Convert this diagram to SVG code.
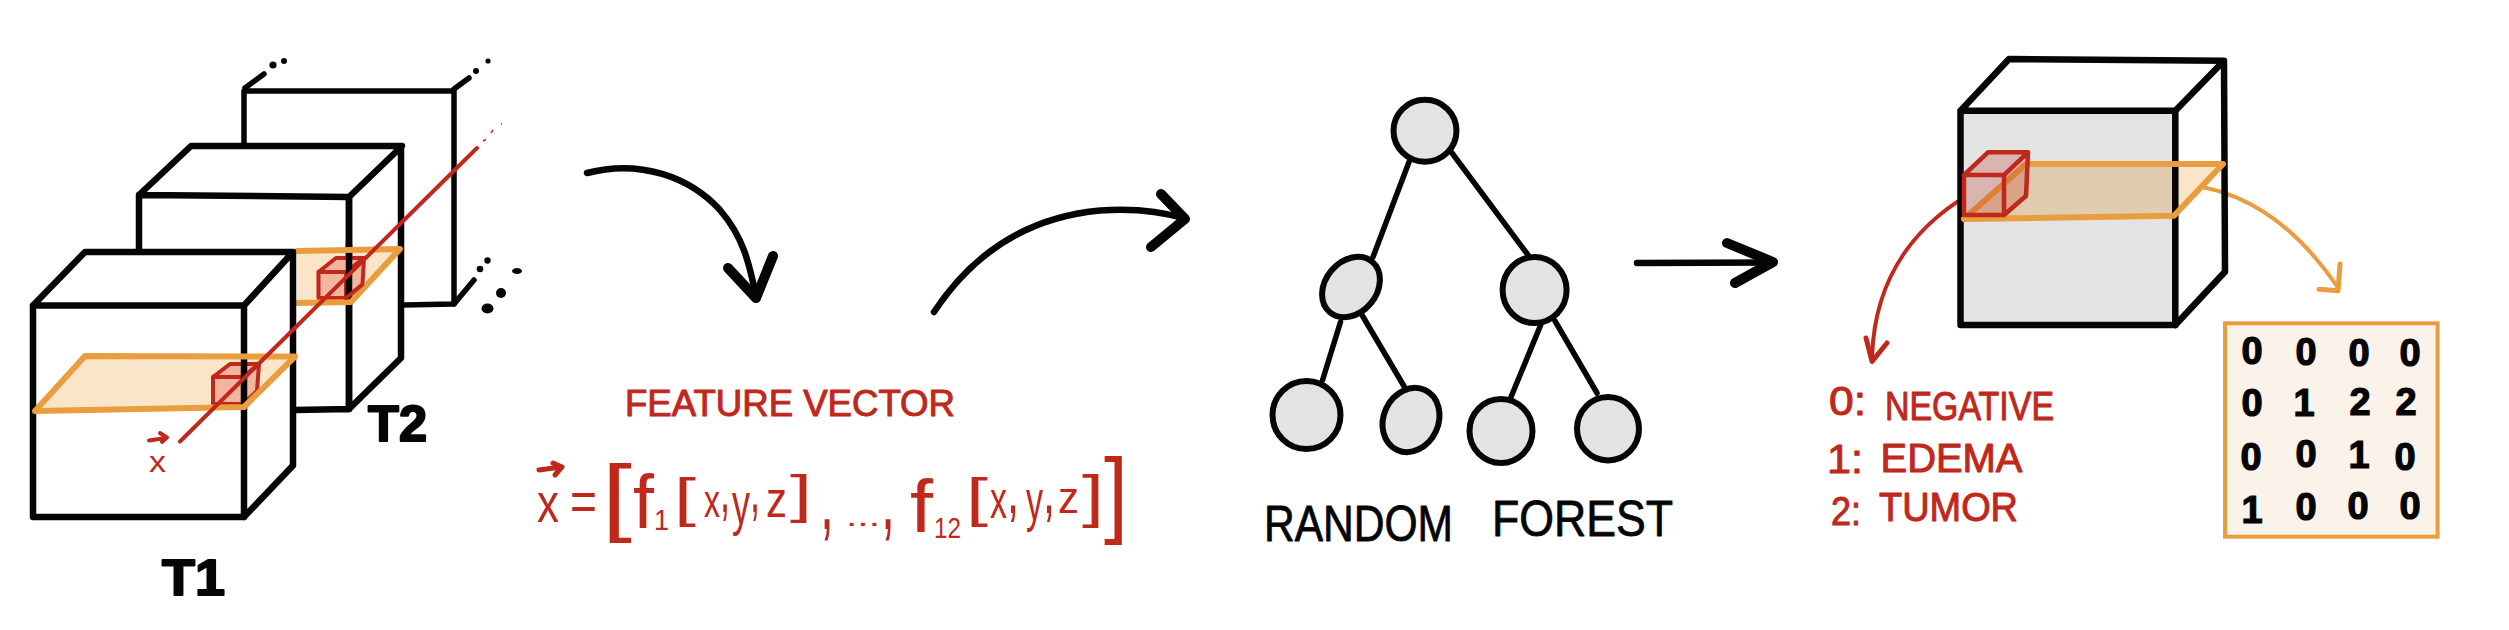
<svg xmlns="http://www.w3.org/2000/svg" width="2509" height="630" viewBox="0 0 2509 630">
<defs>
<style>
.k{fill:none;stroke:#050505;stroke-width:6.500;stroke-linecap:round;stroke-linejoin:round}
.kt{fill:none;stroke:#050505;stroke-width:5.500;stroke-linecap:round;stroke-linejoin:round}
.ah{fill:none;stroke:#050505;stroke-width:10;stroke-linecap:round;stroke-linejoin:round}
.o{fill:none;stroke:#e99d3f;stroke-width:6;stroke-linecap:round;stroke-linejoin:round}
.of{fill:#fbe5c8;stroke:none}
.r{fill:none;stroke:#c1281c;stroke-width:4;stroke-linecap:round;stroke-linejoin:round}
.rc{fill:#f3b4a0;stroke:#c1281c;stroke-width:4;stroke-linejoin:round}
.n{fill:#e3e3e3;stroke:#050505;stroke-width:6}
text{font-family:"Liberation Sans",Arial,sans-serif}
.bt{font-weight:700;font-size:50px;fill:#050505;stroke:#050505;stroke-width:2;stroke-linejoin:round}
.d{font-weight:700;font-size:38px;fill:#050505;text-anchor:middle;stroke:#050505;stroke-width:1.2}
.rt{font-size:36px;fill:#c1281c;stroke:#c1281c;stroke-width:1;stroke-linejoin:round}
.lg{font-size:40px;fill:#c1281c;stroke:#c1281c;stroke-width:1;stroke-linejoin:round}
.kh{font-size:50px;fill:#050505;stroke:#050505;stroke-width:.8;stroke-linejoin:round}
.eq{fill:#c1281c}
</style>
</defs>
<rect width="2509" height="630" fill="#fff"/>

<g id="volume-t3">
<path class="kt" d="M244 145V91H454V304L403 305"/>
<path class="kt" d="M245 88L264 74M454 89L469 78M454 304L474 280"/>
<g fill="#050505"><circle cx="273" cy="65" r="3.600"/><circle cx="284" cy="61" r="3"/><circle cx="476" cy="71" r="3"/><circle cx="488" cy="61" r="2.600"/><circle cx="480" cy="269" r="3.300"/><circle cx="487.500" cy="260.500" r="3.200"/><circle cx="501" cy="293" r="5"/><ellipse cx="487.500" cy="308.500" rx="6" ry="5"/><ellipse cx="517" cy="271" rx="5" ry="3"/></g>
</g>

<g id="volume-t2">
<polygon points="139,195 191,146 402,146 401,358 349,409 139,409" fill="#fff"/>
<path class="k" d="M139 252V195L191 146H402L349 197M139 195L349 197V409L295 410M349 409L401 358V146"/>
<polygon class="of" points="297,251 400,249 351,302 297,303"/>
<path class="k" d="M349 197V409"/>
<path class="rc" d="M318.500 272L336 258H364L362.500 284.500L346 298H318.500Z"/>
<path class="r" d="M318.500 272H346V298M346 272L364 258"/>
<path class="k" d="M349 245V302"/>
<path class="o" d="M297 251L400 249L351 302L297 303"/>
<path class="r" d="M346 298L362.500 284.500"/>
<text class="bt" x="368" y="441" textLength="59" lengthAdjust="spacingAndGlyphs">T2</text>
</g>

<g id="volume-t1">
<polygon points="33,305.500 85,252 293,254 293,465.500 244,517 33,517" fill="#fff"/>
<path class="k" d="M33 305.500L85 252H293L244 305.500M33 305.500H244V517H33ZM244 517L293 465.500V254"/>
<polygon class="of" points="35,411 85,356 295,356.500 244,407"/>
<path class="rc" d="M213 377L230 364H259L257 391L243 404H213Z"/>
<path class="r" d="M213 377H243V404M243 377L259 364"/>
<path class="k" d="M244 356V407"/>
<path class="o" d="M35 411L85 356L295 356.500L244 407Z"/>
<text class="bt" x="162" y="595" textLength="63" lengthAdjust="spacingAndGlyphs">T1</text>
</g>

<g id="ray">
<path class="r" d="M180 441.500L477 148"/>
<path d="M483 141L486 139.500M491 133L493 130M501 124L502 123.500" fill="none" stroke="#c1281c" stroke-width="1.500"/>
<path class="r" d="M149 440.500L166 438M160 433L167 437.500L162 442"/>
<text class="eq" x="149" y="472" font-size="30" textLength="17" lengthAdjust="spacingAndGlyphs">x</text>
</g>

<g id="connectors">
<path class="k" d="M587 173C640 159 690 177 720 210C745 239 750 268 756 296"/>
<path class="ah" d="M728 268L756 298L773 256"/>
<path class="k" d="M934 312C975 250 1030 217 1100 210.500C1130 208.500 1160 211 1184 218.500"/>
<path class="ah" d="M1161 194L1185 219L1151 247"/>
<path class="k" d="M1637 263L1772 262.500"/>
<path class="ah" d="M1727 243L1773 262L1735 283"/>
<path class="r" d="M1981 187.700C1925 217 1875 268 1872 357"/>
<path class="r" style="stroke-width:5" d="M1866 338L1872 361.500L1887 343"/>
<path class="o" style="stroke-width:4" d="M2132 187.700C2200 174 2275 194.700 2338 287.700"/>
<path class="o" style="stroke-width:5" d="M2340 264L2338 290.700L2319 289.300"/>
<g id="tree-edges">
<path class="kt" d="M1409 162L1373 257M1452 153L1528 255M1340.500 322L1322.600 380M1362 315L1404.500 387M1540.700 325L1511 397M1555 321L1597 393"/>
</g>
</g>

<g id="feature-vector">
<text class="rt" x="625" y="416" textLength="330" lengthAdjust="spacingAndGlyphs">FEATURE VECTOR</text>
</g>
<g id="equation">
<path class="r" style="stroke-width:5" d="M539 470L561 467M553 463L562 467L555 475"/>
<text class="eq"><tspan x="537" y="522" font-size="55" textLength="22" lengthAdjust="spacingAndGlyphs">x</tspan><tspan x="570" y="520" font-size="55" textLength="27" lengthAdjust="spacingAndGlyphs">=</tspan><tspan x="602" y="525" font-size="85" textLength="30" lengthAdjust="spacingAndGlyphs">[</tspan><tspan x="633" y="528" font-size="76" textLength="21" lengthAdjust="spacingAndGlyphs">f</tspan><tspan x="654" y="530" font-size="30" textLength="15" lengthAdjust="spacingAndGlyphs">1</tspan><tspan x="674" y="516" font-size="53" textLength="22" lengthAdjust="spacingAndGlyphs">[</tspan><tspan x="704" y="517" font-size="46" textLength="16" lengthAdjust="spacingAndGlyphs">x</tspan><tspan x="720" y="512" font-size="70" textLength="10" lengthAdjust="spacingAndGlyphs">,</tspan><tspan x="732" y="524" font-size="60" textLength="18" lengthAdjust="spacingAndGlyphs">y</tspan><tspan x="750" y="512" font-size="70" textLength="10" lengthAdjust="spacingAndGlyphs">,</tspan><tspan x="766" y="517" font-size="52" textLength="21" lengthAdjust="spacingAndGlyphs">z</tspan><tspan x="790" y="512" font-size="51" textLength="22" lengthAdjust="spacingAndGlyphs">]</tspan><tspan x="820" y="529" font-size="90" textLength="14" lengthAdjust="spacingAndGlyphs">,</tspan><tspan x="846" y="526" font-size="30" textLength="34" lengthAdjust="spacingAndGlyphs">...</tspan><tspan x="881" y="529" font-size="90" textLength="14" lengthAdjust="spacingAndGlyphs">,</tspan><tspan x="910" y="532" font-size="75" textLength="23" lengthAdjust="spacingAndGlyphs">f</tspan><tspan x="934" y="538" font-size="30" textLength="27" lengthAdjust="spacingAndGlyphs">12</tspan><tspan x="966" y="516" font-size="53" textLength="22" lengthAdjust="spacingAndGlyphs">[</tspan><tspan x="990" y="518" font-size="54" textLength="17" lengthAdjust="spacingAndGlyphs">x</tspan><tspan x="1007" y="513" font-size="70" textLength="12" lengthAdjust="spacingAndGlyphs">,</tspan><tspan x="1026" y="520" font-size="58" textLength="17" lengthAdjust="spacingAndGlyphs">y</tspan><tspan x="1043" y="513" font-size="70" textLength="12" lengthAdjust="spacingAndGlyphs">,</tspan><tspan x="1058" y="513" font-size="44" textLength="21" lengthAdjust="spacingAndGlyphs">z</tspan><tspan x="1082" y="516" font-size="58" textLength="22" lengthAdjust="spacingAndGlyphs">]</tspan><tspan x="1104" y="525" font-size="95" textLength="24" lengthAdjust="spacingAndGlyphs">]</tspan></text>
</g>

<g id="node-root"><ellipse class="n" cx="1425" cy="130.700" rx="31.500" ry="31"/></g>
<g id="node-left"><ellipse class="n" cx="1351" cy="287" rx="25.600" ry="33" transform="rotate(40 1351 287)"/></g>
<g id="node-right"><ellipse class="n" cx="1534.600" cy="290" rx="32" ry="33"/></g>
<g id="leaf-1"><ellipse class="n" cx="1306.500" cy="415" rx="34" ry="34"/></g>
<g id="leaf-2"><ellipse class="n" cx="1411" cy="420" rx="27.400" ry="33" transform="rotate(25 1411 420)"/></g>
<g id="leaf-3"><ellipse class="n" cx="1501" cy="431" rx="31.500" ry="32"/></g>
<g id="leaf-4"><ellipse class="n" cx="1608" cy="428.700" rx="31" ry="31.700"/></g>
<g id="forest-label">
<text class="kh" x="1264" y="541" textLength="189" lengthAdjust="spacingAndGlyphs">RANDOM</text>
<text class="kh" x="1492" y="536" textLength="181" lengthAdjust="spacingAndGlyphs">FOREST</text>
</g>

<g id="output-volume">
<polygon points="1960.500,110.700 2175.300,110.700 2175.300,325 1960.500,325" fill="#e3e3e3"/>
<path class="k" d="M1960.500 110.700L2009 59L2224 60.700L2175.300 110.700M1960.500 110.700H2175.300M2224 60.700L2225 271.700L2175.300 325M1960.500 110.700V325H2175.300"/>
<polygon points="1964,219 2026,164 2175,164 2175,216" fill="#e0ccae"/>
<polygon points="2175,164 2223,164 2173.500,216" fill="#fbe5c8"/>
<path class="k" d="M2175.300 110.700V325"/>
<path class="o" d="M1964 219L2174 215.700L2223 164H2026L1964 219"/>
<path d="M1964 175L1988 152.300H2028L2026 196L2004 215H1964Z" fill="#c1281c" fill-opacity=".25"/>
<path class="r" style="stroke-width:4.500" d="M1964 175L1988 152.300H2028L2026 196L2004 215H1964ZM1964 175H2004V215M2004 175L2028 152.300"/>
</g>
<g id="legend">
<text class="lg" x="1829" y="415" textLength="37" lengthAdjust="spacingAndGlyphs">0:</text>
<text class="lg" x="1885" y="420" textLength="169" lengthAdjust="spacingAndGlyphs">NEGATIVE</text>
<text class="lg" x="1827" y="473" textLength="36" lengthAdjust="spacingAndGlyphs">1:</text>
<text class="lg" x="1880.500" y="472" textLength="142" lengthAdjust="spacingAndGlyphs">EDEMA</text>
<text class="lg" x="1831" y="525" textLength="30" lengthAdjust="spacingAndGlyphs">2:</text>
<text class="lg" x="1879" y="521" textLength="139" lengthAdjust="spacingAndGlyphs">TUMOR</text>
</g>
<g id="label-map">
<rect x="2225" y="323.300" width="212.600" height="213.400" fill="#fbf3ea" stroke="#e99d3f" stroke-width="4"/>
<text class="d" x="2252" y="363.500">0</text><text class="d" x="2306" y="365">0</text><text class="d" x="2359" y="366">0</text><text class="d" x="2410" y="366">0</text>
<text class="d" x="2252" y="416">0</text><text class="d" x="2304" y="416">1</text><text class="d" x="2360" y="415">2</text><text class="d" x="2406" y="415">2</text>
<text class="d" x="2251" y="469.500">0</text><text class="d" x="2306" y="467">0</text><text class="d" x="2359" y="468">1</text><text class="d" x="2405" y="470">0</text>
<text class="d" x="2252" y="523">1</text><text class="d" x="2306" y="520">0</text><text class="d" x="2358" y="519">0</text><text class="d" x="2410" y="519">0</text>
</g>
</svg>
